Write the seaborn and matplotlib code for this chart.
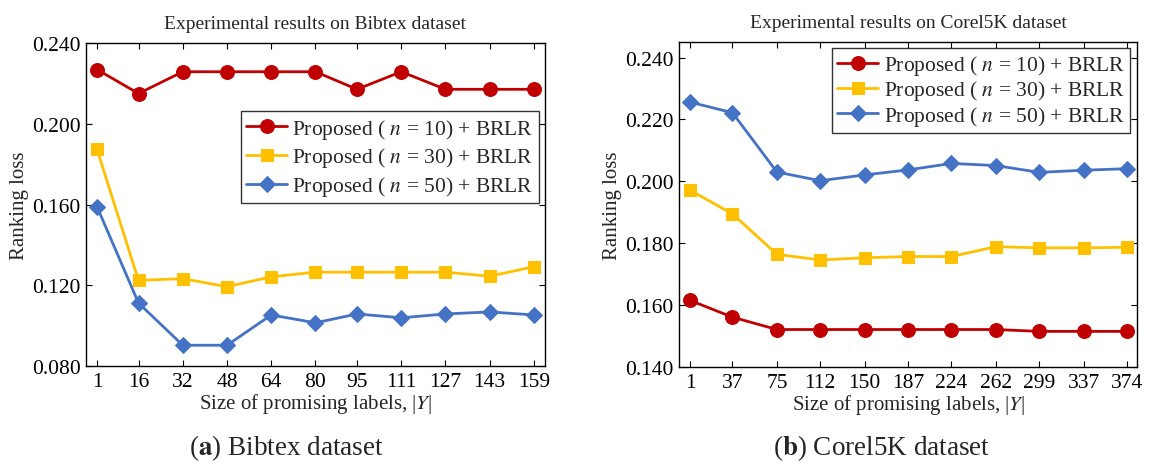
import numpy as np
import pandas as pd
import matplotlib
matplotlib.use('Agg')
import matplotlib.pyplot as plt
import seaborn as sns

# Datos
bibtex_x = [1, 16, 32, 48, 64, 80, 95, 111, 127, 143, 159]
bibtex_n10 = [0.2269, 0.2150, 0.2258, 0.2258, 0.2258, 0.2258, 0.2171, 0.2258, 0.2171, 0.2171, 0.2171]
bibtex_n30 = [0.1873, 0.1224, 0.1233, 0.1193, 0.1242, 0.1265, 0.1265, 0.1265, 0.1265, 0.1245, 0.1292]
bibtex_n50 = [0.1589, 0.1112, 0.0903, 0.0903, 0.1053, 0.1014, 0.1058, 0.1039, 0.1058, 0.1068, 0.1053]

corel_x = [1, 37, 75, 112, 150, 187, 224, 262, 299, 337, 374]
corel_n10 = [0.1615, 0.1561, 0.1521, 0.1521, 0.1521, 0.1521, 0.1521, 0.1521, 0.1515, 0.1515, 0.1515]
corel_n30 = [0.1971, 0.1895, 0.1764, 0.1746, 0.1753, 0.1757, 0.1757, 0.1789, 0.1785, 0.1785, 0.1787]
corel_n50 = [0.2256, 0.2222, 0.2030, 0.2002, 0.2021, 0.2037, 0.2058, 0.2051, 0.2029, 0.2036, 0.2041]

series_labels = ['Proposed ( $n$ = 10) + BRLR', 'Proposed ( $n$ = 30) + BRLR', 'Proposed ( $n$ = 50) + BRLR']
colores = ['#C00000', '#FFC000', '#4472C4']
marcadores = ['o', 's', 'D']
tamanos = [10, 8.5, 8]

sns.set_style('ticks')
plt.rcParams['font.family'] = ['Liberation Serif', 'DejaVu Serif']
plt.rcParams['mathtext.fontset'] = 'stix'
plt.rcParams['xtick.direction'] = 'in'
plt.rcParams['ytick.direction'] = 'in'
plt.rcParams['xtick.top'] = True
plt.rcParams['ytick.right'] = True


def to_long(x, ys):
    frames = []
    for lab, y in zip(series_labels, ys):
        frames.append(pd.DataFrame({'x': x, 'y': y, 'serie': lab}))
    return pd.concat(frames, ignore_index=True)


fig = plt.figure(figsize=(11.51, 4.64), dpi=100)
ax1 = fig.add_axes([0.0747, 0.209, 0.3988, 0.696])
ax2 = fig.add_axes([0.590, 0.207, 0.398, 0.700])

paneles = [
    (ax1, to_long(bibtex_x, [bibtex_n10, bibtex_n30, bibtex_n50]), bibtex_x,
     'Experimental results on Bibtex dataset', (-3, 163), (0.08, 0.24),
     [0.08, 0.12, 0.16, 0.20, 0.24], (0.987, 0.789), 0.22),
    (ax2, to_long(corel_x, [corel_n10, corel_n30, corel_n50]), corel_x,
     'Experimental results on Corel5K dataset', (-8.5, 382.5), (0.14, 0.245),
     [0.14, 0.16, 0.18, 0.20, 0.22, 0.24], (0.985, 0.982), 0.05),
]

for ax, df, xs, titulo, xlim, ylim, yticks, anchor, spacing in paneles:
    for lab, col, mk, ms in zip(series_labels, colores, marcadores, tamanos):
        sns.lineplot(data=df[df['serie'] == lab], x='x', y='y', ax=ax, color=col,
                     marker=mk, markersize=ms, markeredgecolor=col, linewidth=2,
                     label=lab)
    ax.set_xlim(*xlim)
    ax.set_ylim(*ylim)
    ax.set_xticks(xs)
    ax.set_yticks(yticks)
    ax.set_yticklabels([f'{v:.3f}' for v in yticks])
    ax.tick_params(labelsize=15.5, length=4, width=0.8, pad=4, colors='black')
    for s in ax.spines.values():
        s.set_linewidth(1.0)
        s.set_color('black')
    ax.set_title(titulo, fontsize=14, pad=11)
    ax.set_xlabel('Size of promising labels, |$Y$|', fontsize=15, labelpad=0)
    ax.set_ylabel('Ranking loss', fontsize=15, labelpad=2)
    leg = ax.legend(loc='upper right', bbox_to_anchor=anchor, fontsize=15.5,
                    frameon=True, fancybox=False, edgecolor='black',
                    handlelength=1.9, handletextpad=0.25, borderpad=0.25,
                    labelspacing=spacing, borderaxespad=0)
    leg.get_frame().set_linewidth(1.0)

fig.text(0.249, 0.035, r'($\mathbf{a}$) Bibtex dataset', ha='center', va='center', fontsize=19.5)
fig.text(0.766, 0.035, r'($\mathbf{b}$) Corel5K dataset', ha='center', va='center', fontsize=19.5)

plt.savefig('out.png', dpi=100)
